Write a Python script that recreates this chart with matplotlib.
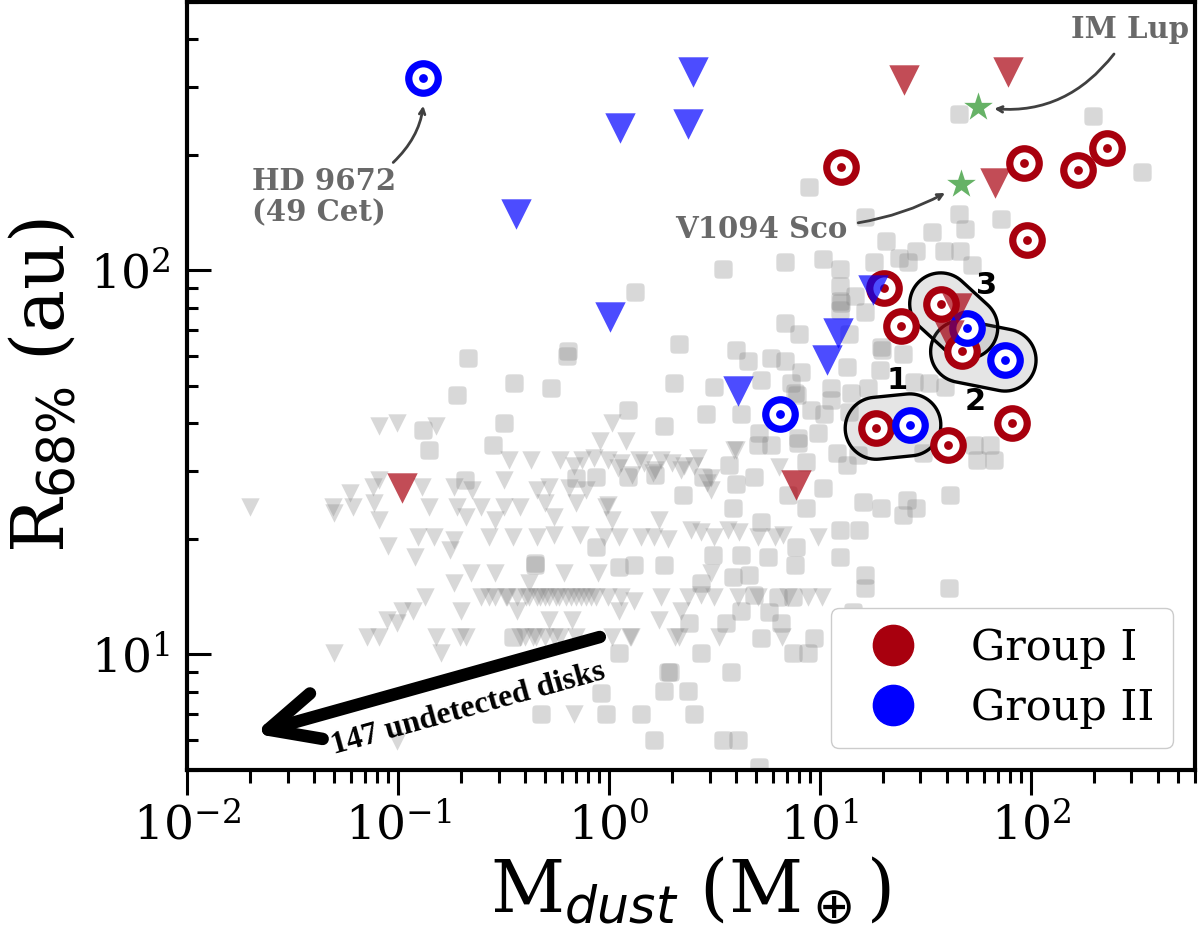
import numpy as np
import matplotlib
matplotlib.use('Agg')
import matplotlib.pyplot as plt
from matplotlib.path import Path
from matplotlib.patches import PathPatch
from matplotlib.lines import Line2D
from matplotlib.transforms import IdentityTransform

plt.rcParams['font.family'] = 'serif'
plt.rcParams['font.serif'] = ['DejaVu Serif']
plt.rcParams['mathtext.fontset'] = 'dejavusans'

# ---- Herbig disks, Group I / Group II (detected: M_dust [M_earth], R68 [au]) ----
g1_det_m = [12.6, 93, 167, 230, 96.4, 20.1, 37.4, 24.3, 47.0, 18.5, 40.6, 81.3]
g1_det_r = [186, 190, 183, 208, 120, 90.1, 81.8, 71.6, 61.5, 38.8, 35.1, 40.0]
g2_det_m = [0.132, 49.7, 75.5, 6.44, 26.7]
g2_det_r = [317, 70.9, 58.4, 42.3, 39.6]

# upper limits on R68
g1_lim_m = [25.0, 77.8, 67.7, 44.5, 41.0, 0.104, 7.71]
g1_lim_r = [314, 329, 169, 80, 68, 27.2, 27.6]
g2_lim_m = [2.50, 2.37, 1.13, 0.361, 1.01, 17.9, 12.2, 10.8, 4.11]
g2_lim_r = [328, 240, 235, 140, 75.4, 88.7, 68.8, 58.6, 48.6]

# named T Tauri disks
star_names = ['IM Lup', 'V1094 Sco']
star_m = [56.0, 46.5]
star_r = [267, 168]

# pairs (Group I index, Group II index) with labels
pair_g1 = [9, 8, 6]
pair_g2 = [4, 2, 1]
pair_labels = ['1', '2', '3']

# ---- comparison sample: detected T Tauri disks ----
gray_det_m = [45.5, 197, 337, 8.9, 16.4, 45.5, 72, 48.6, 33.9, 20.7, 38.6, 46, 28.7, 18, 23.6,
              26.3, 10.4, 6.8, 3.48, 12.4, 52.5, 12.4, 12.4, 12.6, 14.6, 12.4, 16.3, 1.33, 0.64,
              2.15, 6.8, 8.0, 13.7, 4.0, 4.57, 5.88, 6.8, 8.17, 13.4, 19.6, 19.8, 19.2, 24.9,
              2.04, 3.15, 5.27, 7.32, 7.6, 7.8, 11.3, 11.3, 14.1, 17, 28.1, 32.8, 39, 1.23, 1.83,
              2.89, 4.24, 9.11, 10.5, 13.7, 5.16, 7.9, 9.8, 12, 31, 0.214, 0.63, 0.354, 0.19,
              0.53, 0.32, 0.132, 0.141, 0.281, 0.209, 0.70, 0.87, 1.23, 1.65, 2.8,
              0.445, 0.445, 0.87, 0.35, 0.475,
              5.1, 5.88, 7.9, 8.6, 13.4, 15.2, 55.4, 66.7, 54, 64, 3.72, 4.89, 4.0, 3.88, 2.25,
              10.4, 7.1, 8.6, 16.1, 19.6, 25.8, 28.7, 24.9, 41.2, 12.4, 15.4, 7.7, 12.4, 5.27,
              5.7, 4.24, 3.12, 1.83, 1.31, 1.12, 7.6, 16.3, 16.3, 40.8, 3.88, 4.62, 2.74, 7.5,
              6.35, 4.89, 4.24, 5.75, 6.56, 3.6, 2.4, 5.27, 9.4, 7.5, 8.8, 2.74, 1.12, 1.91,
              1.95, 3.8, 1.83, 2.37, 0.916, 1.42, 2.53, 0.97, 1.64, 3.48, 4.1, 5.16, 13.4, 14.4]
gray_det_r = [255, 252, 180, 165, 138, 140, 136, 128, 126, 119, 112, 112, 112, 105, 108,
              105, 107, 105, 101, 101, 103, 91, 83, 82, 86, 79, 77.8, 88, 61.8,
              64.2, 73, 68.3, 68.3, 62.2, 58, 59.3, 58, 54.5, 56, 63, 62, 55, 60.5,
              50.9, 49.7, 51.9, 50.9, 48, 47.5, 49.4, 46, 48, 49.4, 51.3, 50.9, 49.7, 43.4, 39.3,
              42.2, 42.2, 43.4, 42.2, 42.7, 37.8, 36.6, 37.8, 33.5, 33.5, 59.3, 60, 51, 47.4,
              49.4, 40, 38.5, 34.1, 35.2, 28.5, 28.8, 29, 29, 29.3, 29,
              17.1, 17.3, 19, 11.1, 7.0,
              35.2, 35.2, 35.5, 31.7, 31.1, 33, 32.1, 32.1, 35, 35, 31.1, 29, 27.7, 24, 26,
              27.1, 26, 24, 24.9, 24, 25.2, 24, 23, 26, 21.1, 21.1, 19, 17.9, 22.1,
              17.9, 18.1, 18.1, 17.1, 17.1, 16.9, 17.1, 16.1, 14.9, 14.9, 15.9, 16.1, 15.3, 14.1,
              14.1, 14.3, 13, 12.9, 12.1, 12.1, 12.1, 11, 11, 10.1, 10.1, 10.1, 10.1, 9.0,
              9.0, 9.0, 8.05, 8.05, 7.95, 7.0, 7.0, 7.0, 6.0, 6.0, 6.0, 5.1, 9.0, 12.9]

# ---- comparison sample: upper limits ----
gray_lim_m = [0.081, 0.0995, 0.151, 1.03,
              0.91, 1.2, 4.0, 6.4,
              0.335, 0.426, 0.585, 0.744, 0.85, 0.99, 1.14, 1.29, 1.39, 1.62, 1.65, 1.77, 2.0,
              2.2, 2.53, 3.05, 3.05, 3.9, 0.68, 1.47, 2.27, 2.64, 1.10,
              0.059, 0.076, 0.081, 0.13, 0.184, 0.224, 0.32, 0.455, 0.52, 0.65, 0.78, 2.92,
              0.020, 0.049, 0.061, 0.077, 0.141, 0.19, 0.247, 0.32, 0.38, 0.50, 0.70, 0.97, 0.99,
              0.05, 0.081, 0.21, 0.29, 0.55, 1.73, 1.04,
              0.124, 0.148, 0.184, 0.27, 0.35, 0.455, 0.55, 0.73, 0.95, 1.12, 1.42, 1.64, 1.91,
              2.45, 2.74, 3.15, 3.67, 4.14, 5.1, 6.1, 6.7, 9.8,
              0.090, 0.121, 0.176,
              0.184, 0.221, 0.29, 0.417, 0.61, 0.89, 3.05,
              0.104, 0.135, 0.247, 0.27, 0.29, 0.324, 0.366, 0.405, 0.455, 0.50, 0.56, 0.625,
              0.70, 0.78, 0.87, 0.99, 1.14, 1.31, 1.77, 2.37, 2.74, 3.15, 4.1, 5.1, 7.1, 8.8,
              10.2, 0.33, 0.42, 0.47, 0.52, 0.58, 0.66, 0.74, 0.82,
              0.089, 0.118, 0.2, 0.366, 0.099, 0.52, 0.67, 1.73, 1.12, 2.2,
              0.071, 0.081, 0.151, 0.196, 0.21, 0.38, 0.435, 0.585, 0.70, 1.03, 1.26, 2.06,
              3.33, 6.6, 1.27, 2.15, 0.40, 0.45, 0.5, 0.55,
              0.05, 0.16, 0.68, 0.099]
gray_lim_r = [39.3, 40, 39.3, 40,
              36, 36, 34.1, 30.7,
              32, 32, 32, 32, 32.5, 32, 31.5, 29.3, 32, 29.7, 30.2, 32, 31.5,
              30.2, 31, 28.8, 26.8, 34, 31, 31.5, 31, 32.5, 30.5,
              26.3, 27.3, 28.5, 27.3, 27.3, 26.8, 28.5, 26.8, 27.3, 27.1, 26.8, 28,
              24.2, 24.2, 24.2, 24.8, 24.2, 24.2, 24.2, 24.2, 24.2, 24.8, 24.8, 24.2, 24.5,
              23.3, 22.4, 22.8, 22.4, 22.8, 22.4, 22.4,
              20.2, 20.2, 19.9, 20.2, 20.2, 20.2, 20.4, 20.4, 20.2, 20.2, 20.2, 20.2, 20.0,
              21.1, 20.8, 20.2, 21.1, 20.8, 20.2, 20.2, 20.4, 20.2,
              19.2, 17.9, 18.7,
              15.3, 16.3, 16.3, 15.3, 16.3, 16.3, 16.3,
              13.0, 14.1, 14.1, 14.1, 14.1, 14.1, 14.1, 14.1, 14.1, 14.1, 14.1, 14.1,
              14.1, 14.1, 14.1, 14.1, 14.1, 13.8, 14.1, 14.1, 14.3, 14.1, 14.1, 14.1, 14.1, 14.1,
              14.1, 14.1, 14.1, 14.1, 14.1, 14.1, 14.1, 14.1, 14.1,
              12.3, 13.0, 13.0, 13.0, 12.1, 12.3, 12.3, 12.3, 13.0, 13.0,
              11.1, 11.1, 11.1, 11.1, 11.1, 11.1, 11.1, 11.1, 11.1, 11.1, 11.1, 11.1,
              11.1, 11.1, 11.1, 11.1, 11.1, 11.1, 11.1, 11.1,
              10.1, 10.1, 7.0, 5.96]

red = '#a8000e'
blue = '#0000ff'

# rounded square marker
t = np.linspace(0, 2 * np.pi, 61)
rsq = Path(np.column_stack([np.sign(np.cos(t)) * np.abs(np.cos(t)) ** (1 / 3),
                            np.sign(np.sin(t)) * np.abs(np.sin(t)) ** (1 / 3)]))

fig = plt.figure(figsize=(12, 9.34), dpi=100)
ax = fig.add_axes([0.1558, 0.1756, 0.84, 0.8223])
ax.set_xscale('log')
ax.set_yscale('log')
ax.set_xlim(0.01, 600)
ax.set_ylim(5, 500)

ax.scatter(gray_det_m, gray_det_r, marker=rsq, s=175, color='gray', alpha=0.3, lw=0, zorder=1)
ax.scatter(gray_lim_m, gray_lim_r, marker='v', s=175, color='gray', alpha=0.3, lw=0, zorder=1)

# capsules around the pairs
def capsule(p1, p2, r):
    (x1, y1), (x2, y2) = p1, p2
    th = np.arctan2(y2 - y1, x2 - x1)
    a1 = np.linspace(th - np.pi / 2, th + np.pi / 2, 40)
    a2 = np.linspace(th + np.pi / 2, th + 3 * np.pi / 2, 40)
    pts = np.vstack([np.column_stack([x2 + r * np.cos(a1), y2 + r * np.sin(a1)]),
                     np.column_stack([x1 + r * np.cos(a2), y1 + r * np.sin(a2)])])
    return Path(np.vstack([pts, pts[:1]]), closed=True)

label_off = [(3, 33), (-6, -33), (24, 22)]
for i1, i2, lab, off in zip(pair_g1, pair_g2, pair_labels, label_off):
    p = ax.transData.transform([[g1_det_m[i1], g1_det_r[i1]], [g2_det_m[i2], g2_det_r[i2]]])
    ax.add_patch(PathPatch(capsule(p[0], p[1], 31), transform=IdentityTransform(),
                           facecolor=(0.5, 0.5, 0.5, 0.2), edgecolor='black', lw=2.4, zorder=3))
    mm = np.sqrt(g1_det_m[i1] * g2_det_m[i2])
    mr = np.sqrt(g1_det_r[i1] * g2_det_r[i2])
    ax.annotate(lab, (mm, mr), xytext=off, textcoords='offset points', ha='center', va='center',
                fontsize=22, fontweight='bold', family='DejaVu Sans', zorder=6)

# targets
for mx, ry, c in [(g1_det_m, g1_det_r, red), (g2_det_m, g2_det_r, blue)]:
    ax.scatter(mx, ry, marker='o', s=450, facecolor='white', edgecolor=c, lw=5.2, zorder=4)
    ax.scatter(mx, ry, marker='o', s=40, color=c, lw=0, zorder=4)

ax.scatter(g1_lim_m, g1_lim_r, marker='v', s=480, color=red, alpha=0.7, lw=0, zorder=5)
ax.scatter(g2_lim_m, g2_lim_r, marker='v', s=480, color=blue, alpha=0.7, lw=0, zorder=5)
ax.scatter(star_m, star_r, marker='*', s=470, color='green', alpha=0.6, lw=0, zorder=5)

# annotations
acol = '#404040'
tcol = 'dimgray'
ax.annotate('', xy=(g2_det_m[0], g2_det_r[0]), xytext=(0.095, 191),
            arrowprops=dict(arrowstyle='->', color=acol, lw=2, shrinkA=0, shrinkB=20,
                            connectionstyle='arc3,rad=0.25'))
ax.text(0.0204, 155, 'HD 9672\n(49 Cet)', ha='left', va='center', fontsize=21,
        fontweight='bold', color=tcol, linespacing=1.1)
ax.annotate('', xy=(star_m[1], star_r[1]), xytext=(15.2, 133),
            arrowprops=dict(arrowstyle='->', color=acol, lw=2, shrinkA=0, shrinkB=13,
                            connectionstyle='arc3,rad=0.1'))
ax.text(5.27, 128, star_names[1], ha='center', va='center', fontsize=21,
        fontweight='bold', color=tcol)
ax.annotate('', xy=(star_m[0], star_r[0]), xytext=(248, 366),
            arrowprops=dict(arrowstyle='->', color=acol, lw=2, shrinkA=0, shrinkB=12,
                            connectionstyle='arc3,rad=-0.3'))
ax.text(295, 424, star_names[0], ha='center', va='center', fontsize=21,
        fontweight='bold', color=tcol)

# undetected disks arrow
ax.annotate('', xy=(0.0208, 6.22), xytext=(0.906, 11.1),
            arrowprops=dict(arrowstyle='->,head_length=3.6,head_width=1.7', color='black',
                            lw=9, shrinkA=0, shrinkB=0, mutation_scale=10,
                            capstyle='round', joinstyle='round'))
ax.text(0.215, 7.2, '147 undetected disks', rotation=15.5, rotation_mode='anchor',
        ha='center', va='center', fontsize=23, fontweight='bold', family='Liberation Serif')

handles = [Line2D([], [], ls='', marker='o', markersize=29, color=red),
           Line2D([], [], ls='', marker='o', markersize=29, color=blue)]
leg = ax.legend(handles, ['Group I', 'Group II'], loc='lower right', fontsize=31,
                borderaxespad=0.5, handlelength=2.0, handletextpad=0.8, labelspacing=0.42,
                borderpad=0.45, framealpha=1, edgecolor='#cccccc')
leg.set_zorder(10)

ax.set_xlabel(r'M$_{dust}$ (M$_\oplus$)', fontsize=52, labelpad=4)
ax.set_ylabel(r'R$_{68\%}$ (au)', fontsize=52, labelpad=8)

ax.tick_params(axis='x', which='major', direction='out', length=18, width=2.2, labelsize=34, pad=6)
ax.tick_params(axis='x', which='minor', direction='out', length=9, width=2.2)
ax.tick_params(axis='y', which='major', direction='in', length=17, width=2.2, labelsize=34, pad=12)
ax.tick_params(axis='y', which='minor', direction='in', length=8, width=2.2)
for sp in ax.spines.values():
    sp.set_linewidth(3)

fig.savefig('out.png', dpi=100)
